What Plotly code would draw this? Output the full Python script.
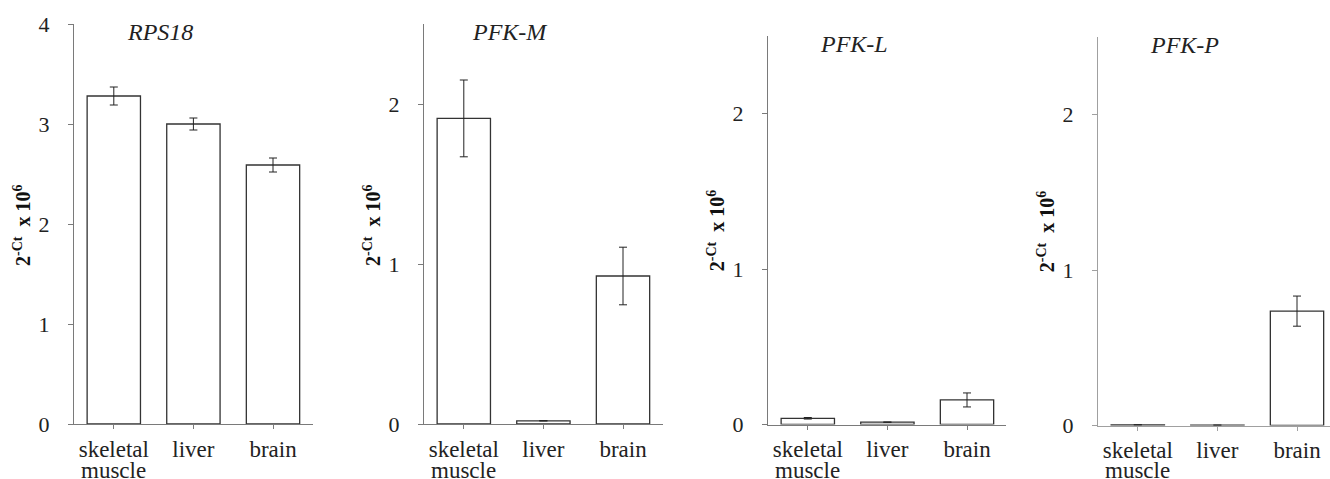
import plotly.graph_objects as go

# ---- data ----
categories = ["skeletal", "liver", "brain"]
category_second_line = ["muscle", "", ""]
genes = ["RPS18", "PFK-M", "PFK-L", "PFK-P"]
rps18 = [3.28, 3.00, 2.59]
rps18_err = [0.09, 0.06, 0.07]
pfkm = [1.91, 0.02, 0.925]
pfkm_err = [0.24, 0.0, 0.18]
pfkl = [0.04, 0.015, 0.158]
pfkl_err = [0.005, 0.0, 0.045]
pfkp = [0.004, 0.002, 0.736]
pfkp_err = [0.0, 0.0, 0.097]
y_max = [4, 2.5, 2.5, 2.5]
y_ticks = [[0, 1, 2, 3, 4], [0, 1, 2], [0, 1, 2], [0, 1, 2]]
y_title = "2<sup>-Ct</sup>\u00a0\u00a0x\u00a010<sup>6</sup>"

values = [rps18, pfkm, pfkl, pfkp]
errors = [rps18_err, pfkm_err, pfkl_err, pfkp_err]

# ---- layout geometry (pixels) ----
W, H = 1330, 479
panels = [
    dict(x0=74, x1=313, y0=24, y1=424, axc="#7a7a7a"),
    dict(x0=424, x1=663, y0=24, y1=424, axc="#7a7a7a"),
    dict(x0=768, x1=1006, y0=36, y1=424.5, axc="#7a7a7a"),
    dict(x0=1098, x1=1330, y0=37, y1=425.5, axc="#a0a0a0"),
]
cat_w = 79.6

SERIF = "Liberation Serif, Times New Roman, serif"
fig = go.Figure()
annotations = []
layout = {}
for i, p in enumerate(panels):
    n = "" if i == 0 else str(i + 1)
    xa, ya = "x" + n, "y" + n
    fig.add_trace(go.Bar(
        x=[0, 1, 2], y=values[i], xaxis=xa, yaxis=ya, width=0.67,
        marker=dict(color="white", line=dict(color="#333333", width=1.3)),
        error_y=dict(type="data", array=errors[i], color="#222222", thickness=1, width=4),
        showlegend=False, hoverinfo="y",
    ))
    xr_end = -0.5 + (p["x1"] - p["x0"]) / cat_w
    layout["xaxis" + n] = dict(
        domain=[p["x0"] / W, p["x1"] / W], anchor=ya, automargin=False,
        range=[-0.5, xr_end], tickmode="array", tickvals=[0, 1, 2],
        ticktext=categories, showline=True, linecolor=p["axc"], linewidth=1,
        ticks="outside", ticklen=4, tickcolor=p["axc"], showgrid=False,
        zeroline=False, fixedrange=True,
        tickfont=dict(family=SERIF, size=23, color="#222222"),
        ticklabelstandoff=0,
    )
    layout["yaxis" + n] = dict(
        domain=[1 - p["y1"] / H, 1 - p["y0"] / H], anchor=xa, automargin=False,
        range=[0, y_max[i]], tickvals=y_ticks[i], showline=True,
        linecolor=p["axc"], linewidth=1, ticks="outside", ticklen=5,
        tickcolor=p["axc"], showgrid=False, zeroline=False, fixedrange=True,
        tickfont=dict(family=SERIF, size=22, color="#222222"),
        ticklabelstandoff=14,
    )
    # second line of category labels
    for k, t in enumerate(category_second_line):
        if t:
            annotations.append(dict(
                text=t, xref=xa, yref="paper", x=k, y=1 - 470 / H,
                xanchor="center", yanchor="middle", showarrow=False,
                font=dict(family=SERIF, size=23, color="#222222"),
            ))
    # gene title
    annotations.append(dict(
        text=genes[i], xref="paper", yref="paper",
        x=(p["x0"] + 86) / W, y=1 - (p["y0"] + 8) / H,
        xanchor="center", yanchor="middle", showarrow=False,
        font=dict(family=SERIF, size=24, color="#222222", style="italic"),
    ))
    # y axis title
    annotations.append(dict(
        text="<b>" + y_title + "</b>", xref="paper", yref="paper",
        x=(p["x0"] - 52) / W, y=1 - ((p["y0"] + p["y1"]) / 2 + 1) / H,
        xanchor="center", yanchor="middle", textangle=-90, showarrow=False,
        font=dict(family=SERIF, size=20, color="#111111"),
    ))

fig.update_layout(
    width=W, height=H, margin=dict(l=0, r=0, t=0, b=0, autoexpand=False),
    paper_bgcolor="white", plot_bgcolor="white",
    annotations=annotations, bargap=0.3, **layout,
)
fig.write_html(
    "out.html",
    config={"displayModeBar": False},
    post_script="document.body.style.margin='0';document.body.style.overflow='hidden';",
)
